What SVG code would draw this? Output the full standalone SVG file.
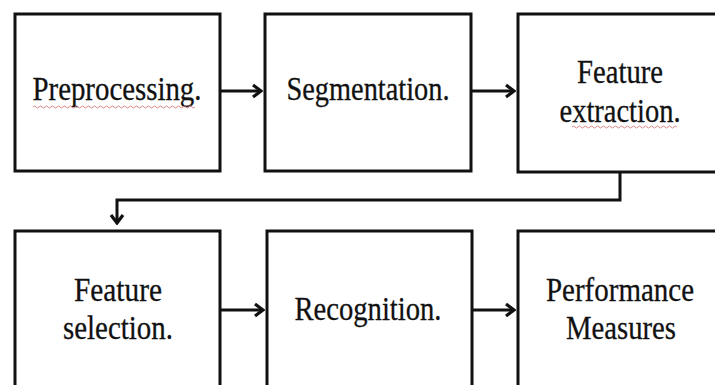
<svg xmlns="http://www.w3.org/2000/svg" width="715" height="385" viewBox="0 0 715 385">
<style>
.box{fill:#fff;stroke:#111;stroke-width:3}
.lbl{font-family:"Liberation Serif","Times New Roman",serif;font-size:34px;fill:#111;stroke:#111;stroke-width:0.3;text-anchor:middle}
.conn{fill:none;stroke:#111;stroke-width:3}
.sq{fill:none;stroke:#d88;stroke-width:1}
</style>
<defs>
<marker id="ah" markerWidth="12" markerHeight="16" refX="10" refY="8" orient="auto" markerUnits="userSpaceOnUse">
<path d="M2,2 L10,8 L2,14" fill="none" stroke="#111" stroke-width="3.2"/>
</marker>
</defs>
<rect width="715" height="385" fill="#fff"/>
<g id="n1">
<rect class="box" x="15" y="14" width="205" height="157"/>
<text class="lbl" x="117" y="100" textLength="169" lengthAdjust="spacingAndGlyphs">Preprocessing.</text>
<path class="sq" d="M33,107 q1.5,-2 3,0 t3,0 t3,0 t3,0 t3,0 t3,0 t3,0 t3,0 t3,0 t3,0 t3,0 t3,0 t3,0 t3,0 t3,0 t3,0 t3,0 t3,0 t3,0 t3,0 t3,0 t3,0 t3,0 t3,0 t3,0 t3,0 t3,0 t3,0 t3,0 t3,0 t3,0 t3,0 t3,0 t3,0 t3,0 t3,0 t3,0 t3,0 t3,0 t3,0 t3,0 t3,0 t3,0 t3,0 t3,0 t3,0 t3,0 t3,0 t3,0 t3,0 t3,0 t3,0 t3,0 t3,0"/>
</g>
<g id="n2">
<rect class="box" x="265" y="14" width="206" height="157"/>
<text class="lbl" x="368" y="100" textLength="163" lengthAdjust="spacingAndGlyphs">Segmentation.</text>
</g>
<g id="n3">
<rect class="box" x="518" y="14" width="210" height="158"/>
<text class="lbl" x="620" y="83" textLength="86" lengthAdjust="spacingAndGlyphs">Feature</text>
<text class="lbl" x="620" y="122" textLength="121" lengthAdjust="spacingAndGlyphs">extraction.</text>
<path class="sq" d="M572,127 q1.5,-2 3,0 t3,0 t3,0 t3,0 t3,0 t3,0 t3,0 t3,0 t3,0 t3,0 t3,0 t3,0 t3,0 t3,0 t3,0 t3,0 t3,0 t3,0 t3,0 t3,0 t3,0 t3,0 t3,0 t3,0 t3,0 t3,0 t3,0 t3,0 t3,0 t3,0 t3,0 t3,0 t3,0 t3,0 t3,0"/>
</g>
<g id="n4">
<rect class="box" x="15" y="231" width="205" height="170"/>
<text class="lbl" x="118" y="301" textLength="88" lengthAdjust="spacingAndGlyphs">Feature</text>
<text class="lbl" x="118" y="339" textLength="110" lengthAdjust="spacingAndGlyphs">selection.</text>
</g>
<g id="n5">
<rect class="box" x="267" y="231" width="205" height="170"/>
<text class="lbl" x="368" y="320" textLength="147" lengthAdjust="spacingAndGlyphs">Recognition.</text>
</g>
<g id="n6">
<rect class="box" x="518" y="231" width="210" height="170"/>
<text class="lbl" x="620" y="301" textLength="148" lengthAdjust="spacingAndGlyphs">Performance</text>
<text class="lbl" x="621" y="339" textLength="110" lengthAdjust="spacingAndGlyphs">Measures</text>
</g>
<g id="connectors">
<line class="conn" x1="221" y1="91" x2="261" y2="91" marker-end="url(#ah)"/>
<line class="conn" x1="472" y1="91" x2="514" y2="91" marker-end="url(#ah)"/>
<polyline class="conn" points="620,172 620,200 117,200 117,223" marker-end="url(#ah)"/>
<line class="conn" x1="221" y1="310" x2="263" y2="310" marker-end="url(#ah)"/>
<line class="conn" x1="473" y1="310" x2="514" y2="310" marker-end="url(#ah)"/>
</g>
</svg>
